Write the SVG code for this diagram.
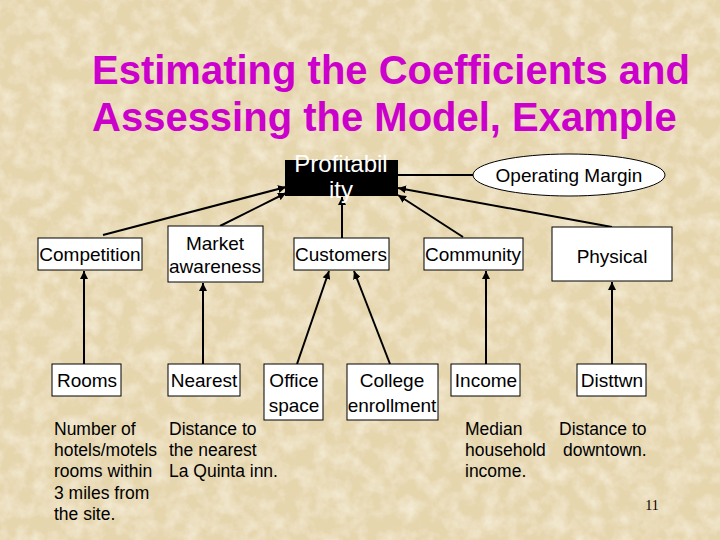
<svg xmlns="http://www.w3.org/2000/svg" width="720" height="540" viewBox="0 0 720 540">
<defs>
<filter id="paper" x="0" y="0" width="100%" height="100%">
<feTurbulence type="fractalNoise" baseFrequency="0.06" numOctaves="4" seed="3" result="n"/>
<feColorMatrix in="n" type="matrix" values="0 0 0 0 0.96  0 0 0 0 0.91  0 0 0 0 0.78  0 0 0 -1.2 0.75" result="c"/>
<feComposite in="c" in2="SourceGraphic" operator="over"/>
</filter>
<marker id="ah" viewBox="0 0 10 10" refX="10" refY="5" markerWidth="8" markerHeight="8" markerUnits="userSpaceOnUse" orient="auto">
<path d="M0,0 L10,5 L0,10 z" fill="#000"/>
</marker>
<style>
.box{fill:#fff;stroke:#000;stroke-width:1}
.lbl{font-family:"Liberation Sans",Arial,sans-serif;font-size:19px;fill:#000;text-anchor:middle}
.note{font-family:"Liberation Sans",Arial,sans-serif;font-size:17.5px;fill:#000}
.ttl{font-family:"Liberation Sans",Arial,sans-serif;font-size:40px;font-weight:bold;fill:#CC00CC}
.ln{stroke:#000;stroke-width:2;fill:none}
.arr{stroke:#000;stroke-width:2;fill:none;marker-end:url(#ah)}
</style>
</defs>
<rect width="720" height="540" fill="#E6D6AE"/>
<rect width="720" height="540" fill="#E6D6AE" filter="url(#paper)"/>

<g id="title">
<text class="ttl" x="92" y="84">Estimating the Coefficients and</text>
<text class="ttl" x="92" y="131">Assessing the Model, Example</text>
</g>

<g id="connectors">
<line class="ln" x1="473" y1="175" x2="398" y2="175"/>
<line class="arr" x1="103" y1="235" x2="286" y2="187"/>
<line class="arr" x1="220" y1="226" x2="286" y2="193"/>
<line class="arr" x1="342" y1="238" x2="342" y2="197"/>
<line class="arr" x1="463" y1="237" x2="398" y2="195"/>
<line class="arr" x1="612" y1="227" x2="398" y2="188"/>
<line class="arr" x1="84" y1="364" x2="84" y2="271"/>
<line class="arr" x1="203" y1="364" x2="203" y2="283"/>
<line class="arr" x1="297" y1="364" x2="329" y2="271"/>
<line class="arr" x1="390" y1="364" x2="354" y2="271"/>
<line class="arr" x1="486" y1="364" x2="486" y2="271"/>
<line class="arr" x1="612" y1="364" x2="612" y2="282"/>
</g>

<g id="profitability">
<rect x="285" y="160" width="113" height="36" fill="#000"/>
<text class="lbl" x="341" y="172" style="fill:#fff;font-size:24px">Profitabil</text>
<text class="lbl" x="341" y="198" style="fill:#fff;font-size:24px">ity</text>
</g>
<g id="operating-margin">
<ellipse cx="569" cy="175" rx="96" ry="21" fill="#fff" stroke="#000"/>
<text class="lbl" x="569" y="182">Operating Margin</text>
</g>

<g id="competition"><rect class="box" x="38" y="238" width="104" height="32"/><text class="lbl" x="90" y="261">Competition</text></g>
<g id="market-awareness"><rect class="box" x="168" y="226" width="95" height="56"/><text class="lbl" x="215" y="250">Market</text><text class="lbl" x="215" y="273">awareness</text></g>
<g id="customers"><rect class="box" x="294" y="238" width="95" height="32"/><text class="lbl" x="341" y="261">Customers</text></g>
<g id="community"><rect class="box" x="424" y="238" width="99" height="32"/><text class="lbl" x="473" y="261">Community</text></g>
<g id="physical"><rect class="box" x="552" y="227" width="120" height="54"/><text class="lbl" x="612" y="263">Physical</text></g>

<g id="rooms"><rect class="box" x="52" y="364" width="69" height="32"/><text class="lbl" x="87" y="387">Rooms</text></g>
<g id="nearest"><rect class="box" x="168" y="364" width="72" height="32"/><text class="lbl" x="204" y="387">Nearest</text></g>
<g id="office-space"><rect class="box" x="264" y="364" width="59" height="56"/><text class="lbl" x="294" y="387">Office</text><text class="lbl" x="294" y="412">space</text></g>
<g id="college-enrollment"><rect class="box" x="347" y="364" width="91" height="56"/><text class="lbl" x="392" y="387">College</text><text class="lbl" x="392" y="412">enrollment</text></g>
<g id="income"><rect class="box" x="451" y="364" width="69" height="32"/><text class="lbl" x="486" y="387">Income</text></g>
<g id="disttwn"><rect class="box" x="577" y="364" width="69" height="32"/><text class="lbl" x="612" y="387">Disttwn</text></g>

<g id="notes">
<text class="note" x="54" y="434.5">Number of</text>
<text class="note" x="54" y="456">hotels/motels</text>
<text class="note" x="54" y="477">rooms within</text>
<text class="note" x="54" y="498.5">3 miles from</text>
<text class="note" x="54" y="520">the site.</text>
<text class="note" x="169" y="434.5">Distance to</text>
<text class="note" x="169" y="456">the nearest</text>
<text class="note" x="169" y="477">La Quinta inn.</text>
<text class="note" x="465" y="434.5">Median</text>
<text class="note" x="465" y="456">household</text>
<text class="note" x="465" y="477">income.</text>
<text class="note" x="559" y="434.5">Distance to</text>
<text class="note" x="563" y="456">downtown.</text>
<text x="652" y="510" style="font-family:'Liberation Serif',serif;font-size:14px;text-anchor:middle;fill:#000">11</text>
</g>
</svg>
